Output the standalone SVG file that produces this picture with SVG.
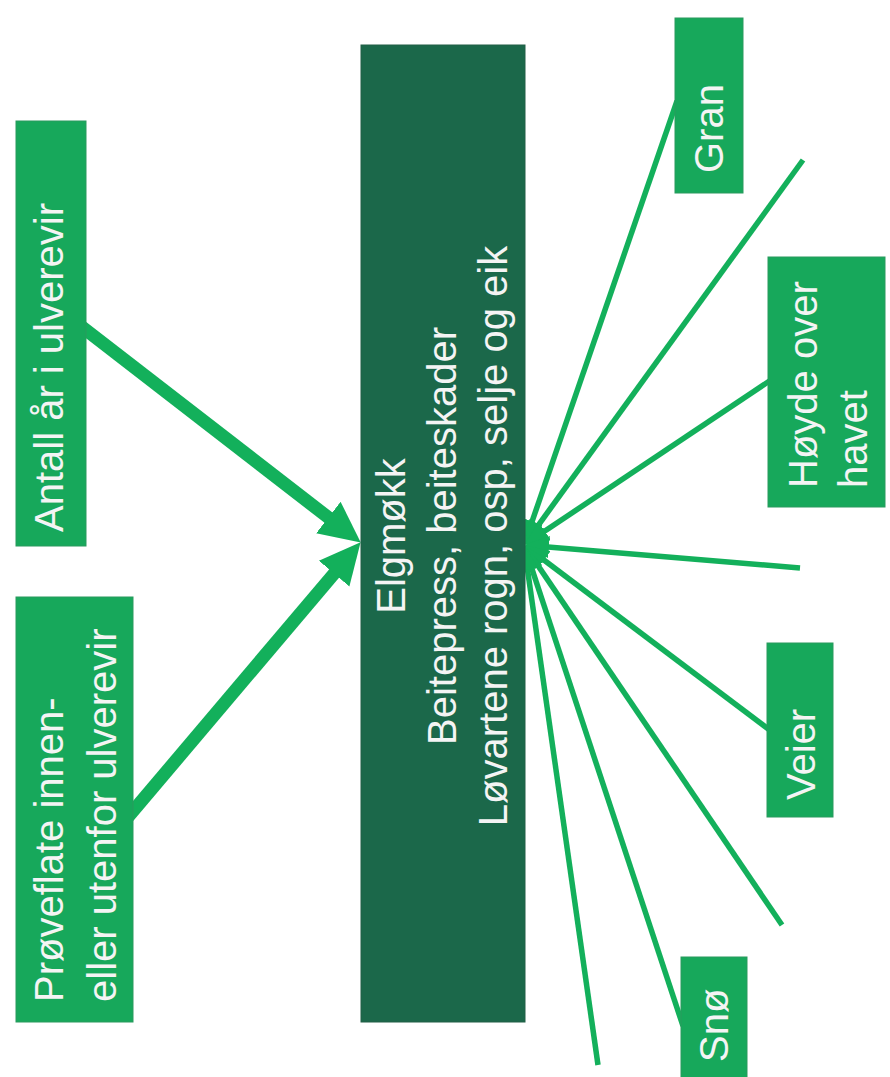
<svg xmlns="http://www.w3.org/2000/svg" width="890" height="1077" viewBox="0 0 890 1077">
  <style>
    .box { fill: #17a85b; stroke: #2a9a5e; stroke-width: 1; }
    .main { fill: #1b684a; stroke: #235f47; stroke-width: 1; }
    .lbl { font-family: "Liberation Sans", Arial, sans-serif; font-size: 40px; fill: #f4f4f4; }
    .thick { stroke: #13b05b; stroke-width: 13; fill: none; }
    .thin { stroke: #13b05b; stroke-width: 5.5; fill: none; }
  </style>
  <defs>
    <marker id="bigArrow" viewBox="0 0 42 42" markerWidth="42" markerHeight="42" markerUnits="userSpaceOnUse" refX="15" refY="21" orient="auto">
      <path d="M0,1 L41,21 L0,41 z" fill="#13b05b"/>
    </marker>
    <marker id="smallArrow" viewBox="0 0 25 22" markerWidth="25" markerHeight="22" markerUnits="userSpaceOnUse" refX="13" refY="11" orient="auto">
      <path d="M0,0 L25,11 L0,22 z" fill="#13b05b"/>
    </marker>
  </defs>
  <rect x="0" y="0" width="890" height="1077" fill="#ffffff"/>

  <g id="connectors">
    <line class="thick" x1="80" y1="325.4" x2="340.2" y2="526.7" marker-end="url(#bigArrow)"/>
    <line class="thick" x1="128" y1="817" x2="343.8" y2="562.1" marker-end="url(#bigArrow)"/>
    <line class="thin" x1="677" y1="101" x2="527.9" y2="533.6" marker-end="url(#smallArrow)"/>
    <line class="thin" x1="803" y1="160" x2="531.0" y2="535.3" marker-end="url(#smallArrow)"/>
    <line class="thin" x1="772" y1="379.3" x2="534.0" y2="538.3" marker-end="url(#smallArrow)"/>
    <line class="thin" x1="800" y1="568" x2="536.0" y2="546.0" marker-end="url(#smallArrow)"/>
    <line class="thin" x1="771" y1="731" x2="533.6" y2="552.2" marker-end="url(#smallArrow)"/>
    <line class="thin" x1="782" y1="925" x2="530.7" y2="554.9" marker-end="url(#smallArrow)"/>
    <line class="thin" x1="683" y1="1026" x2="527.8" y2="556.4" marker-end="url(#smallArrow)"/>
    <line class="thin" x1="598" y1="1065" x2="525.7" y2="556.9" marker-end="url(#smallArrow)"/>
  </g>

  <g id="node-antall">
    <rect class="box" x="16" y="121" width="70" height="425"/>
    <text class="lbl" transform="translate(63,532) rotate(-90)">Antall år i ulverevir</text>
  </g>

  <g id="node-proveflate">
    <rect class="box" x="16" y="597" width="117" height="425"/>
    <text class="lbl" transform="translate(63,1002) rotate(-90)"><tspan x="0" y="0">Prøveflate innen-</tspan><tspan x="0" y="53">eller utenfor ulverevir</tspan></text>
  </g>

  <g id="node-elgmokk">
    <rect class="main" x="361" y="45" width="164" height="977"/>
    <text class="lbl" text-anchor="middle" transform="translate(405,536) rotate(-90)"><tspan x="0" y="0">Elgmøkk</tspan><tspan x="0" y="51">Beitepress, beiteskader</tspan><tspan x="0" y="102">Løvartene rogn, osp, selje og eik</tspan></text>
  </g>

  <g id="node-gran">
    <rect class="box" x="675" y="18" width="68" height="175"/>
    <text class="lbl" transform="translate(723,173) rotate(-90)">Gran</text>
  </g>

  <g id="node-hoyde">
    <rect class="box" x="768" y="257" width="117" height="250"/>
    <text class="lbl" transform="translate(817,488) rotate(-90)"><tspan x="0" y="0">Høyde over</tspan><tspan x="0" y="50">havet</tspan></text>
  </g>

  <g id="node-veier">
    <rect class="box" x="767" y="643" width="66" height="174"/>
    <text class="lbl" transform="translate(815,800) rotate(-90)">Veier</text>
  </g>

  <g id="node-sno">
    <rect class="box" x="681" y="957" width="66" height="130"/>
    <text class="lbl" transform="translate(728,1062) rotate(-90)">Snø</text>
  </g>
</svg>
